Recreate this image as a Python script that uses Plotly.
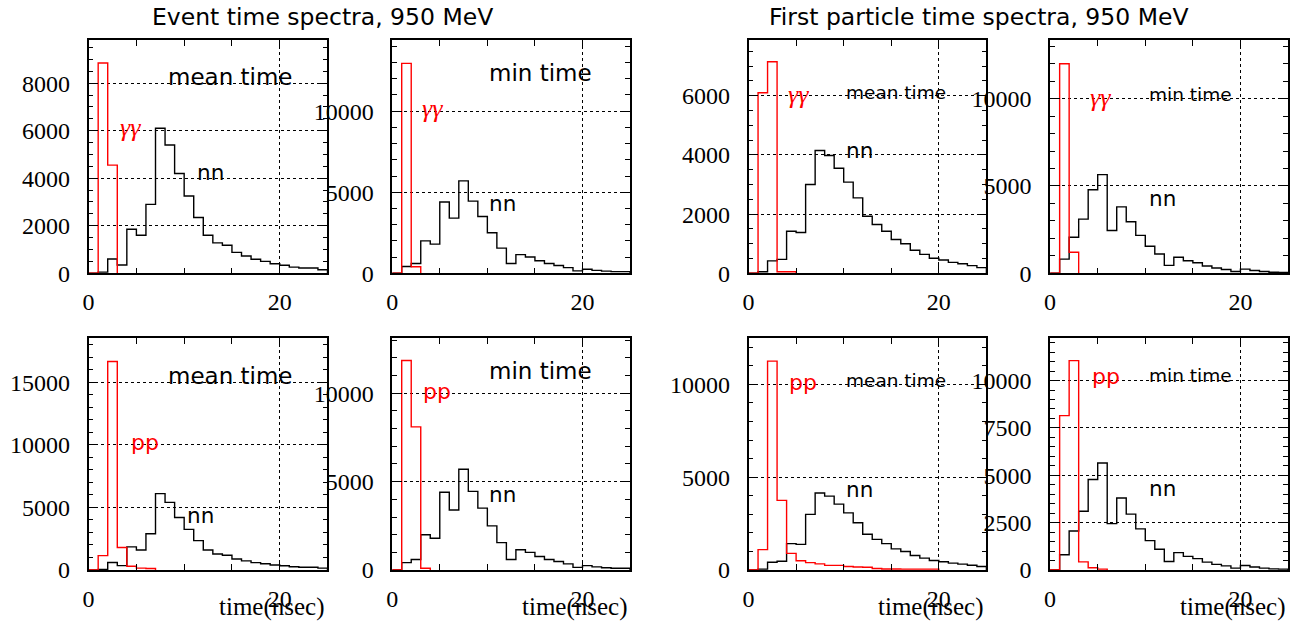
import plotly.graph_objects as go

# ---------------- data (counts per 1 ns bin, starting at t=0) ----------------
nn_event_mean = [0, 50, 600, 350, 1850, 1600, 2900, 6100, 5400, 4200, 3250, 2350, 1600,
                 1280, 1180, 880, 730, 590, 500, 400, 340, 260, 220, 220, 150]
nn_event_min = [0, 420, 600, 2000, 1800, 4400, 3400, 5700, 4450, 3500, 2500, 1550, 600,
                1150, 1000, 770, 600, 480, 350, 150, 250, 180, 130, 100, 100]
nn_first_mean = [0, 50, 420, 470, 1420, 1380, 3000, 4150, 3980, 3550, 3080, 2550, 1930,
                 1650, 1420, 1140, 1000, 780, 640, 510, 450, 370, 320, 260, 190]
nn_first_min = [0, 810, 2060, 3100, 4780, 5650, 2450, 3800, 2950, 2170, 1550, 1100, 450,
                920, 720, 600, 420, 300, 220, 100, 240, 160, 100, 60, 50]

gg_event_mean = [0, 8850, 4550]
gg_event_min = [0, 12950, 400]
pp_event_mean = [0, 1150, 16650, 1800, 300, 150, 120]
pp_event_min = [0, 11850, 8100, 100]
gg_first_mean = [0, 6100, 7150, 50, 50]
gg_first_min = [0, 12000, 1200]
pp_first_mean = [0, 1100, 11250, 3750, 900, 500, 400, 330, 250, 250, 190, 160, 150,
                 80, 60, 60, 50, 50, 50, 50]
pp_first_min = [0, 8150, 11050, 430, 120, 50]

x_tick_labels = ["0", "20"]
x_tick_vals = [0, 20]
x_minor_vals = [5, 10, 15]

panels = [
    # (black, red, red label, kind label, y max, y major ticks, y minor step, small text)
    (nn_event_mean, gg_event_mean, "γγ", "mean time", 9810, [0, 2000, 4000, 6000, 8000], 500, False),
    (nn_event_min, gg_event_min, "γγ", "min time", 14380, [0, 5000, 10000], 1000, False),
    (nn_event_mean, pp_event_mean, "pp", "mean time", 18530, [0, 5000, 10000, 15000], 1000, False),
    (nn_event_min, pp_event_min, "pp", "min time", 13130, [0, 5000, 10000], 1000, False),
    (nn_first_mean, gg_first_mean, "γγ", "mean time", 7880, [0, 2000, 4000, 6000], 500, True),
    (nn_first_min, gg_first_min, "γγ", "min time", 13350, [0, 5000, 10000], 1000, True),
    (nn_first_mean, pp_first_mean, "pp", "mean time", 12500, [0, 5000, 10000], 1000, True),
    (nn_first_min, pp_first_min, "pp", "min time", 12250, [0, 2500, 5000, 7500, 10000], 500, True),
]

W, H = 1290, 633
# panel frames in pixels (left, right, top, bottom)
frames = [
    (83, 323, 41, 279), (388, 627, 41, 279),
    (83, 323, 345, 582), (388, 627, 345, 582),
    (746, 985, 41, 279), (1049, 1288, 41, 279),
    (746, 985, 345, 582), (1049, 1288, 345, 582),
]
# text positions inside panels (domain fractions): red label, kind label, nn label
text_pos = [
    ((0.125, 0.626), (0.325, 0.842), (0.446, 0.431)),
    ((0.117, 0.706), (0.400, 0.859), (0.400, 0.298)),
    ((0.167, 0.550), (0.325, 0.836), (0.404, 0.237)),
    ((0.121, 0.769), (0.400, 0.859), (0.400, 0.324)),
    ((0.158, 0.765), (0.400, 0.777), (0.400, 0.527)),
    ((0.158, 0.756), (0.408, 0.769), (0.408, 0.321)),
    ((0.162, 0.807), (0.400, 0.815), (0.400, 0.345)),
    ((0.167, 0.832), (0.408, 0.836), (0.408, 0.351)),
]

SANS = "DejaVu Sans, Verdana, sans-serif"
SERIF = "'Liberation Serif', 'Times New Roman', Times, serif"

fig = go.Figure()
annotations = []
layout_axes = {}


def step_xy(counts):
    xs = list(range(len(counts) + 1))
    ys = list(counts) + [0]
    return xs, ys


for i, (black, red, rlab, klab, ymax, ymaj, ymin_step, small) in enumerate(panels):
    n = i + 1
    xa = "x" if n == 1 else f"x{n}"
    ya = "y" if n == 1 else f"y{n}"
    xs, ys = step_xy(black)
    fig.add_trace(go.Scatter(x=xs, y=ys, mode="lines", line=dict(color="black", width=1.4, shape="hv"),
                             xaxis=xa, yaxis=ya, showlegend=False, hoverinfo="skip"))
    xs, ys = step_xy(red)
    fig.add_trace(go.Scatter(x=xs, y=ys, mode="lines", line=dict(color="#ff0000", width=1.4, shape="hv"),
                             xaxis=xa, yaxis=ya, showlegend=False, hoverinfo="skip"))
    l, r, t, b = frames[i]
    xkey = "xaxis" if n == 1 else f"xaxis{n}"
    ykey = "yaxis" if n == 1 else f"yaxis{n}"
    layout_axes[xkey] = dict(
        domain=[l / W, r / W], anchor=ya, range=[0, 25],
        tickmode="array", tickvals=x_tick_vals, ticktext=x_tick_labels,
        ticks="inside", ticklen=9, tickwidth=1, tickcolor="black",
        showline=True, linecolor="black", linewidth=1.5, mirror="ticks",
        showgrid=True, gridcolor="black", griddash="dot", gridwidth=1,
        zeroline=False, ticklabelstandoff=6,
        tickfont=dict(family=SERIF, size=24, color="black"),
        minor=dict(tickmode="array", tickvals=x_minor_vals, ticks="inside", ticklen=6,
                   tickcolor="black", tickwidth=1, showgrid=False),
        fixedrange=True,
    )
    layout_axes[ykey] = dict(
        domain=[1 - b / H, 1 - t / H], anchor=xa, range=[0, ymax],
        tickmode="array", tickvals=ymaj, ticktext=[str(v) for v in ymaj],
        ticks="inside", ticklen=10, tickwidth=1, tickcolor="black",
        showline=True, linecolor="black", linewidth=1.5, mirror="ticks",
        showgrid=True, gridcolor="black", griddash="dot", gridwidth=1,
        zeroline=False, ticklabelstandoff=12,
        tickfont=dict(family=SERIF, size=24, color="black"),
        minor=dict(dtick=ymin_step, tick0=0, ticks="inside", ticklen=5,
                   tickcolor="black", tickwidth=1, showgrid=False),
        fixedrange=True,
    )
    (rx, ry), (kx, ky), (nx, ny) = text_pos[i]
    xr = f"{xa} domain"
    yr = f"{ya} domain"
    if rlab == "γγ":
        rfont = dict(family=SERIF, size=26, color="#ff0000")
        rtext = "<i>γγ</i>"
    else:
        rfont = dict(family=SANS, size=22, color="#ff0000")
        rtext = rlab
    annotations.append(dict(text=rtext, x=rx, y=ry, xref=xr, yref=yr, xanchor="left", yanchor="middle",
                            showarrow=False, font=rfont))
    annotations.append(dict(text=klab, x=kx, y=ky, xref=xr, yref=yr, xanchor="left", yanchor="middle",
                            showarrow=False, font=dict(family=SANS, size=18.5 if small else 23, color="black")))
    annotations.append(dict(text="nn", x=nx, y=ny, xref=xr, yref=yr, xanchor="left", yanchor="middle",
                            showarrow=False, font=dict(family=SANS, size=21.5, color="black")))
    if b > 400:
        annotations.append(dict(text="time(nsec)", x=1.0, xref=xr, xanchor="right",
                                y=1 - 620 / H, yref="paper", yanchor="middle", showarrow=False,
                                font=dict(family=SERIF, size=25, color="black")))

annotations.append(dict(text="Event time spectra, 950 MeV", x=145 / W, y=1 - 17 / H, xref="paper", yref="paper",
                        xanchor="left", yanchor="middle", showarrow=False,
                        font=dict(family=SANS, size=23.5, color="black")))
annotations.append(dict(text="First particle time spectra, 950 MeV", x=765 / W, y=1 - 17 / H, xref="paper",
                        yref="paper", xanchor="left", yanchor="middle", showarrow=False,
                        font=dict(family=SANS, size=23.5, color="black")))

fig.update_layout(
    width=W, height=H, autosize=False,
    margin=dict(l=0, r=0, t=0, b=0),
    paper_bgcolor="white", plot_bgcolor="white",
    annotations=annotations,
    **layout_axes,
)

fig.write_html("out.html")
